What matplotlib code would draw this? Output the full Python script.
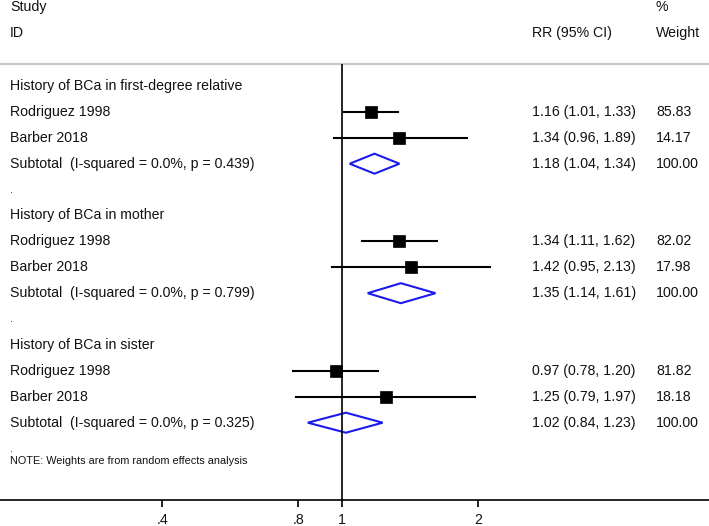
import matplotlib.pyplot as plt
import matplotlib.transforms as mtransforms

plt.rcParams['font.family'] = ['Liberation Sans', 'DejaVu Sans']

# --- data ---
groups = ['History of BCa in first-degree relative',
          'History of BCa in mother',
          'History of BCa in sister']
studies = ['Rodriguez 1998', 'Barber 2018']
rr = [[1.16, 1.34], [1.34, 1.42], [0.97, 1.25]]
lo = [[1.01, 0.96], [1.11, 0.95], [0.78, 0.79]]
hi = [[1.33, 1.89], [1.62, 2.13], [1.20, 1.97]]
weights = [[85.83, 14.17], [82.02, 17.98], [81.82, 18.18]]
sub_rr = [1.18, 1.35, 1.02]
sub_lo = [1.04, 1.14, 0.84]
sub_hi = [1.34, 1.61, 1.23]
i_squared = ['0.0%', '0.0%', '0.0%']
p_values = ['0.439', '0.799', '0.325']
xticks = [0.4, 0.8, 1, 2]
xtick_labels = ['.4', '.8', '1', '2']

# --- layout (pixel rows) ---
W, H = 709, 526
fig = plt.figure(figsize=(W / 100, H / 100), dpi=100)
ax = fig.add_axes([0, 26 / H, 1, 1 - 26 / H])
ax.set_xscale('log')
ax.set_xlim(0.1750, 6.49)
ax.set_ylim(500, 0)

for s in ['top', 'left', 'right']:
    ax.spines[s].set_visible(False)
ax.spines['bottom'].set_linewidth(1.2)
ax.set_yticks([])
ax.set_xticks(xticks)
ax.set_xticklabels(xtick_labels, fontsize=10.2, color='#111111')
ax.xaxis.set_minor_locator(plt.NullLocator())
ax.tick_params(axis='x', direction='out', length=5, width=1.2, pad=4)

trans = mtransforms.blended_transform_factory(ax.transAxes, ax.transData)
x_lab, x_rr, x_w = 10 / W, 532 / W, 656 / W
fs = 10.2
fs_small = 7.8
tc = '#111111'

def put(x, y, s, size=fs):
    ax.text(x, y, s, transform=trans, fontsize=size, va='center', color=tc)

# header
put(x_lab, 7, 'Study')
put(x_lab, 33, 'ID')
put(x_w, 7, '%')
put(x_rr, 33, 'RR (95% CI)')
put(x_w, 33, 'Weight')
ax.axhline(64, color='#c8c8c8', lw=1.6)
ax.vlines(1, 64, 500, color='black', lw=1.2)

y0, step = 86, 25.9
half_h = 10
for g, name in enumerate(groups):
    base = g * 5
    put(x_lab, y0 + base * step, name)
    for k, st in enumerate(studies):
        y = y0 + (base + 1 + k) * step
        ax.plot([lo[g][k], hi[g][k]], [y, y], color='black', lw=1.5)
        ax.plot(rr[g][k], y, marker='s', ms=9, color='black', mew=0.5)
        put(x_lab, y, st)
        put(x_rr, y, f'{rr[g][k]:.2f} ({lo[g][k]:.2f}, {hi[g][k]:.2f})')
        put(x_w, y, f'{weights[g][k]:.2f}')
    y = y0 + (base + 3) * step
    ax.fill([sub_lo[g], sub_rr[g], sub_hi[g], sub_rr[g]],
            [y, y - half_h, y, y + half_h],
            facecolor='none', edgecolor='#1a1aee', lw=1.5)
    put(x_lab, y, f'Subtotal  (I-squared = {i_squared[g]}, p = {p_values[g]})')
    put(x_rr, y, f'{sub_rr[g]:.2f} ({sub_lo[g]:.2f}, {sub_hi[g]:.2f})')
    put(x_w, y, '100.00')
    put(x_lab, y0 + (base + 4) * step, '.', fs_small)

put(x_lab, 461, 'NOTE: Weights are from random effects analysis', fs_small)

fig.savefig('out.png', dpi=100)
plt.close(fig)
